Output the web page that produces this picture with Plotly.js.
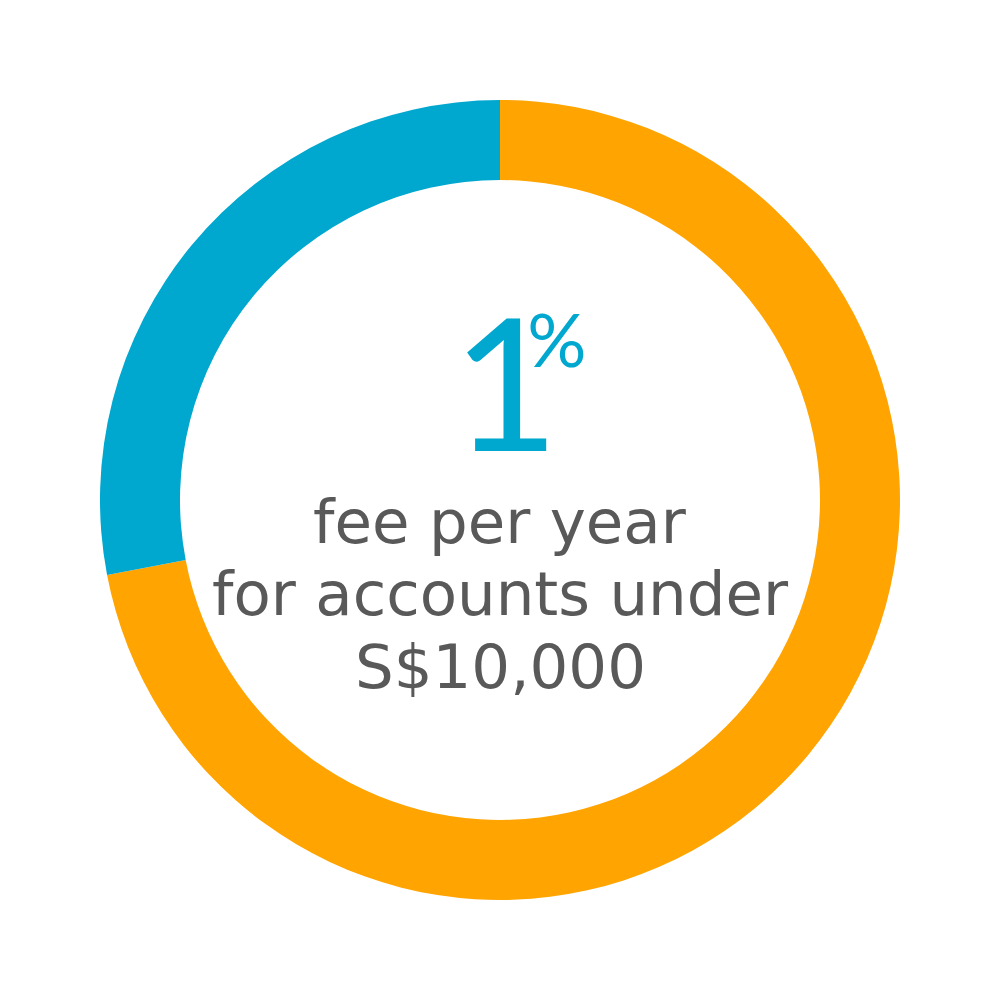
<!DOCTYPE html>
<html>
<head>
<meta charset="utf-8">
<script src="https://cdn.plot.ly/plotly-3.0.1.min.js"></script>
<style>html,body{margin:0;padding:0;background:#fff;}#chart{width:1000px;height:1000px;}</style>
</head>
<body>
<div id="chart"></div>
<script>
const labels = ["Remainder", "Fee"];
const values = [72, 28];
const colors = ["#FFA400", "#00A7CF"];
const bigNumber = "1";
const bigUnit = "%";
const captionLines = ["fee per year", "for accounts under", "S$10,000"];

const data = [{
  type: "pie",
  labels: labels,
  values: values,
  hole: 0.8,
  sort: false,
  direction: "clockwise",
  rotation: 0,
  textinfo: "none",
  hoverinfo: "none",
  marker: {colors: colors, line: {width: 0}},
  domain: {x: [0.1, 0.9], y: [0.1, 0.9]},
  showlegend: false
}];

const headFont = "Lato, 'Open Sans', sans-serif";
const capFont = "'DejaVu Sans', sans-serif";
const headline = "<span style='letter-spacing:-32px'>" + bigNumber + "</span><span style='font-size:74px;baseline-shift:84px'>" + bigUnit + "</span>";
const annotations = [
  {text: headline, x: 0.45, y: 0.508, xref: "paper", yref: "paper", xanchor: "left", yanchor: "bottom",
   showarrow: false, font: {family: headFont, size: 185, color: colors[1]}}
];
const lineY = [0.442, 0.370, 0.297];
captionLines.forEach((t, i) => {
  annotations.push({text: t, x: 0.5, y: lineY[i], xref: "paper", yref: "paper", xanchor: "center", yanchor: "bottom",
    borderpad: 0, showarrow: false, font: {family: capFont, size: 61, color: "#595959"}});
});

const layout = {
  width: 1000, height: 1000,
  margin: {l: 0, r: 0, t: 0, b: 0},
  paper_bgcolor: "#ffffff",
  annotations: annotations
};
Plotly.newPlot("chart", data, layout, {displayModeBar: false, staticPlot: true});
</script>
</body>
</html>
